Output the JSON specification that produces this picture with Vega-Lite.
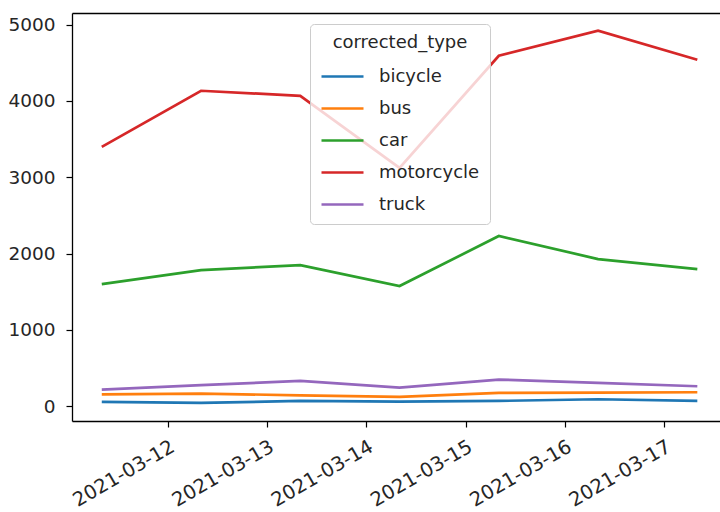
{
  "$schema": "https://vega.github.io/schema/vega-lite/v6.json",
  "autosize": {"type": "none"},
  "padding": {"left": 72, "top": 13, "right": 0, "bottom": 91},
  "width": 648,
  "height": 408,
  "background": "white",
  "config": {
    "view": {"stroke": null},
    "font": "DejaVu Sans",
    "axis": {
      "grid": false,
      "domainColor": "black",
      "domainWidth": 1.3,
      "tickColor": "black",
      "tickWidth": 1.2,
      "tickSize": 6,
      "labelFont": "DejaVu Sans",
      "labelFontSize": 18,
      "labelColor": "#262626",
      "title": null
    }
  },
  "data": {
    "values": [
      {"date": "2021-03-11T08:00:00", "corrected_type": "bicycle", "count": 57},
      {"date": "2021-03-12T08:00:00", "corrected_type": "bicycle", "count": 44},
      {"date": "2021-03-13T08:00:00", "corrected_type": "bicycle", "count": 70},
      {"date": "2021-03-14T08:00:00", "corrected_type": "bicycle", "count": 61},
      {"date": "2021-03-15T08:00:00", "corrected_type": "bicycle", "count": 70},
      {"date": "2021-03-16T08:00:00", "corrected_type": "bicycle", "count": 92},
      {"date": "2021-03-17T08:00:00", "corrected_type": "bicycle", "count": 70},
      {"date": "2021-03-11T08:00:00", "corrected_type": "bus", "count": 157},
      {"date": "2021-03-12T08:00:00", "corrected_type": "bus", "count": 166},
      {"date": "2021-03-13T08:00:00", "corrected_type": "bus", "count": 144},
      {"date": "2021-03-14T08:00:00", "corrected_type": "bus", "count": 122},
      {"date": "2021-03-15T08:00:00", "corrected_type": "bus", "count": 175},
      {"date": "2021-03-16T08:00:00", "corrected_type": "bus", "count": 179},
      {"date": "2021-03-17T08:00:00", "corrected_type": "bus", "count": 184},
      {"date": "2021-03-11T08:00:00", "corrected_type": "car", "count": 1601},
      {"date": "2021-03-12T08:00:00", "corrected_type": "car", "count": 1785},
      {"date": "2021-03-13T08:00:00", "corrected_type": "car", "count": 1850},
      {"date": "2021-03-14T08:00:00", "corrected_type": "car", "count": 1575},
      {"date": "2021-03-15T08:00:00", "corrected_type": "car", "count": 2231},
      {"date": "2021-03-16T08:00:00", "corrected_type": "car", "count": 1929},
      {"date": "2021-03-17T08:00:00", "corrected_type": "car", "count": 1798},
      {"date": "2021-03-11T08:00:00", "corrected_type": "motorcycle", "count": 3399},
      {"date": "2021-03-12T08:00:00", "corrected_type": "motorcycle", "count": 4134},
      {"date": "2021-03-13T08:00:00", "corrected_type": "motorcycle", "count": 4068},
      {"date": "2021-03-14T08:00:00", "corrected_type": "motorcycle", "count": 3123},
      {"date": "2021-03-15T08:00:00", "corrected_type": "motorcycle", "count": 4593},
      {"date": "2021-03-16T08:00:00", "corrected_type": "motorcycle", "count": 4921},
      {"date": "2021-03-17T08:00:00", "corrected_type": "motorcycle", "count": 4541},
      {"date": "2021-03-11T08:00:00", "corrected_type": "truck", "count": 219},
      {"date": "2021-03-12T08:00:00", "corrected_type": "truck", "count": 276},
      {"date": "2021-03-13T08:00:00", "corrected_type": "truck", "count": 332},
      {"date": "2021-03-14T08:00:00", "corrected_type": "truck", "count": 245},
      {"date": "2021-03-15T08:00:00", "corrected_type": "truck", "count": 350},
      {"date": "2021-03-16T08:00:00", "corrected_type": "truck", "count": 306},
      {"date": "2021-03-17T08:00:00", "corrected_type": "truck", "count": 262}
    ]
  },
  "layer": [
    {
      "mark": {"type": "line", "strokeWidth": 2.7, "clip": true},
      "encoding": {
        "x": {
          "field": "date",
          "type": "temporal",
          "scale": {
            "domain": [
              {"year": 2021, "month": 3, "date": 11, "hours": 0, "minutes": 48},
              {"year": 2021, "month": 3, "date": 17, "hours": 13, "minutes": 29}
            ]
          },
          "axis": {
            "format": "%Y-%m-%d",
            "values": [
              {"year": 2021, "month": 3, "date": 12},
              {"year": 2021, "month": 3, "date": 13},
              {"year": 2021, "month": 3, "date": 14},
              {"year": 2021, "month": 3, "date": 15},
              {"year": 2021, "month": 3, "date": 16},
              {"year": 2021, "month": 3, "date": 17}
            ],
            "labelAngle": -30,
            "labelAlign": "right",
            "labelBaseline": "top",
            "labelFontSize": 19.5,
            "labelPadding": 10,
            "labelDx": -3,
            "labelBound": false,
            "labelOverlap": false
          }
        },
        "y": {
          "field": "count",
          "type": "quantitative",
          "scale": {"domain": [-193, 5153], "nice": false, "zero": false},
          "axis": {
            "values": [0, 1000, 2000, 3000, 4000, 5000],
            "format": "d",
            "labelFontSize": 18.5,
            "labelPadding": 11
          }
        },
        "color": {
          "field": "corrected_type",
          "type": "nominal",
          "scale": {
            "domain": ["bicycle", "bus", "car", "motorcycle", "truck"],
            "range": ["#1f77b4", "#ff7f0e", "#2ca02c", "#d62728", "#9467bd"]
          },
          "legend": {
            "title": "corrected_type",
            "orient": "none",
            "legendX": 238,
            "legendY": 11,
            "symbolType": "stroke",
            "symbolSize": 1764,
            "symbolStrokeWidth": 2.7,
            "labelFontSize": 18,
            "labelFont": "DejaVu Sans",
            "labelColor": "#262626",
            "labelOffset": 14,
            "titleFontSize": 18,
            "titleFont": "DejaVu Sans",
            "titleFontWeight": "normal",
            "titleColor": "#262626",
            "titleAnchor": "middle",
            "titlePadding": 2,
            "padding": 10,
            "rowPadding": 0,
            "strokeColor": "#cccccc",
            "fillColor": "rgba(255,255,255,0.8)",
            "cornerRadius": 4
          }
        }
      }
    },
    {
      "mark": {"type": "line", "opacity": 0},
      "encoding": {
        "x": {
          "field": "date",
          "type": "temporal",
          "axis": {
            "orient": "top",
            "labels": false,
            "ticks": false,
            "domain": true
          }
        }
      }
    }
  ],
  "resolve": {"axis": {"x": "independent"}}
}
